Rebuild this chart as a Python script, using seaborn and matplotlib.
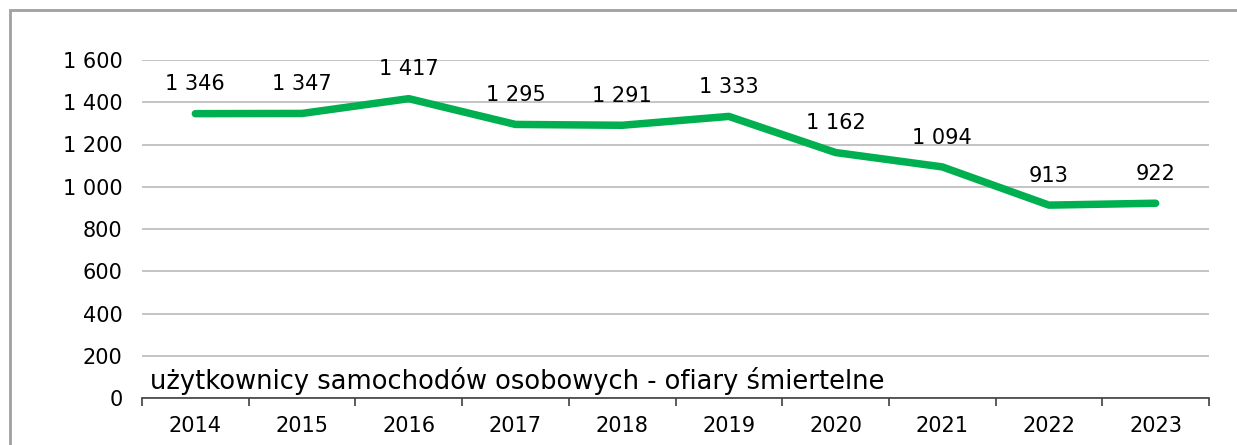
import matplotlib
matplotlib.use("Agg")
import matplotlib.pyplot as plt
import matplotlib.patches as mpatches
from matplotlib.ticker import FuncFormatter, FixedLocator, NullFormatter
import seaborn as sns
import pandas as pd

years = ["2014", "2015", "2016", "2017", "2018", "2019", "2020", "2021", "2022", "2023"]
fatalities = [1346, 1347, 1417, 1295, 1291, 1333, 1162, 1094, 913, 922]
series_label = "użytkownicy samochodów osobowych - ofiary śmiertelne"

df = pd.DataFrame({"pos": range(len(years)), "value": fatalities})

sns.set_theme(style="white")
plt.rcParams["font.family"] = ["DejaVu Sans"]

FS = 15

fig = plt.figure(figsize=(12.37, 4.45), dpi=100)
ax = fig.add_axes([142 / 1237, 1 - 398 / 445, (1209 - 142) / 1237, (398 - 60) / 445])

# outer frame around the chart
frame = mpatches.Rectangle((9.5 / 1237, -0.1), 1.2, 1 - 10.5 / 445 + 0.1,
                           transform=fig.transFigure, fill=False,
                           edgecolor="#a0a0a0", linewidth=2.0, zorder=0)
fig.patches.append(frame)

sns.lineplot(data=df, x="pos", y="value", ax=ax, color="#00b050",
             linewidth=5.4, solid_capstyle="round", zorder=3)

for x, v in zip(df["pos"], df["value"]):
    txt = f"{v:,}".replace(",", " ")
    ax.annotate(txt, (x, v), xytext=(0, 21), textcoords="offset points",
                ha="center", va="center", fontsize=FS, color="#000000")

ax.set_xlim(-0.5, len(years) - 0.5)
ax.set_ylim(0, 1600)
ax.set_yticks(range(0, 1601, 200))
ax.yaxis.set_major_formatter(FuncFormatter(lambda v, p: f"{int(v):,}".replace(",", " ")))
ax.grid(axis="y", color="#bfbfbf", linewidth=1.3)
ax.grid(axis="x", visible=False)

# category boundaries carry the tick marks, labels sit in the middle
ax.xaxis.set_major_locator(FixedLocator([i - 0.5 for i in range(len(years) + 1)]))
ax.xaxis.set_major_formatter(NullFormatter())
ax.xaxis.set_minor_locator(FixedLocator(list(range(len(years)))))
ax.set_xticklabels(years, minor=True)
ax.tick_params(axis="x", which="major", direction="out", length=6, width=1.2,
               color="#404040", bottom=True)
ax.tick_params(axis="x", which="minor", length=0, labelsize=FS, pad=13, labelcolor="#000000")
ax.tick_params(axis="y", length=0, labelsize=FS, pad=14, labelcolor="#000000")
ax.set_xlabel("")
ax.set_ylabel("")

for side in ["left", "right", "top"]:
    ax.spines[side].set_visible(False)
ax.spines["bottom"].set_color("#404040")
ax.spines["bottom"].set_linewidth(1.2)

ax.text(8 / 1067, 17 / 338, series_label, transform=ax.transAxes,
        fontsize=18.5, color="#000000", ha="left", va="center")

fig.savefig("out.png", dpi=100)
